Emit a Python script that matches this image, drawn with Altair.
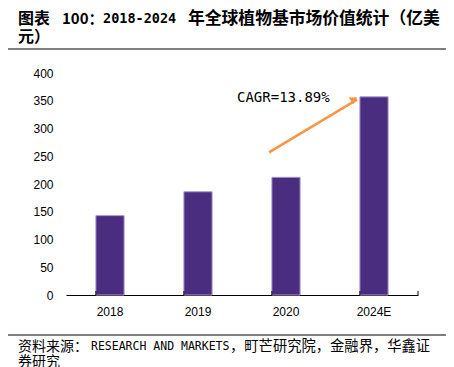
import altair as alt
import pandas as pd

years = ["2018", "2019", "2020", "2024E"]
values = [143, 186, 212, 357]

arrow_from = ["2020", 257]
arrow_to = ["2024E", 352]
arrow_head = ["2024E", 353]
cagr_label = "CAGR=13.89%"
y_ticks = [0, 50, 100, 150, 200, 250, 300, 350, 400]

W, H = 352, 222

bars_df = pd.DataFrame({"year": years, "value": values})
arrow_df = pd.DataFrame({"year": [arrow_from[0], arrow_to[0]], "value": [arrow_from[1], arrow_to[1]]})
head_df = pd.DataFrame({"year": [arrow_head[0]], "value": [arrow_head[1]]})

xscale = alt.Scale(domain=years, paddingInner=0.68, paddingOuter=0.34)
yscale = alt.Scale(domain=[0, 400])

xaxis = alt.Axis(title=None, labelAngle=0, ticks=False, domainColor="#000000",
                 domainWidth=1, labelFontSize=12, labelFont="Liberation Sans",
                 labelColor="#000000", labelPadding=11)
yaxis = alt.Axis(title=None, values=y_ticks, labelOverlap=False, grid=False, domain=False,
                 ticks=False, labelFontSize=12, labelFont="Liberation Sans",
                 labelColor="#000000", labelPadding=13)

bars = alt.Chart(bars_df).mark_bar(color="#4b2d80", stroke="#a596cf", strokeWidth=1).encode(
    x=alt.X("year:N", scale=xscale, sort=years, axis=xaxis),
    y=alt.Y("value:Q", scale=yscale, axis=yaxis),
)

ticks = alt.Chart(bars_df).mark_rule(color="#000000", strokeWidth=1).encode(
    x=alt.X("year:N", scale=xscale, sort=years, bandPosition=0, axis=xaxis),
    y=alt.value(H), y2=alt.value(H - 4),
)
end_tick = alt.Chart(bars_df.head(1)).mark_rule(color="#000000", strokeWidth=1).encode(
    x=alt.value(W), y=alt.value(H), y2=alt.value(H - 4),
)

arrow = alt.Chart(arrow_df).mark_line(color="#f79646", strokeWidth=2.5, xOffset=-17).encode(
    x=alt.X("year:N", scale=xscale, sort=years, axis=xaxis),
    y=alt.Y("value:Q", scale=yscale, axis=yaxis),
)
head = alt.Chart(head_df).mark_point(shape="triangle-up", filled=True, color="#f79646",
                                     opacity=1, size=70, angle=57.5, xOffset=-20).encode(
    x=alt.X("year:N", scale=xscale, sort=years, axis=xaxis),
    y=alt.Y("value:Q", scale=yscale, axis=yaxis),
)

cagr = alt.Chart(bars_df.head(1)).mark_text(align="left", baseline="middle", fontSize=14,
                                            font="DejaVu Sans Mono", color="#000000").encode(
    x=alt.value(171), y=alt.value(25), text=alt.value(cagr_label))


def txt(s, x, y, size, font="Noto Sans CJK SC", weight="normal"):
    return alt.Chart(bars_df.head(1)).mark_text(align="left", baseline="middle", fontSize=size,
                                                font=font, fontWeight=weight, color="#000000").encode(
        x=alt.value(x), y=alt.value(y), text=alt.value(s))


title_parts = [
    txt("图表", -48, -54, 16, weight="bold"),
    txt("100：", -4, -54, 15, weight="bold"),
    txt("2018-2024", 37, -54, 13.5, font="DejaVu Sans Mono", weight="bold"),
    txt("年全球植物基市场价值统计（亿美", 122, -54, 16.8, weight="bold"),
    txt("元）", -48, -36, 16, weight="bold"),
]
title_rule = alt.Chart(bars_df.head(1)).mark_rule(color="#555555", strokeWidth=1.5).encode(
    x=alt.value(-58), x2=alt.value(380), y=alt.value(-24))

foot_rule = alt.Chart(bars_df.head(1)).mark_rule(color="#555555", strokeWidth=1.5).encode(
    x=alt.value(-58), x2=alt.value(380), y=alt.value(262))
foot_parts = [
    txt("资料来源：", -48, 274, 14),
    txt("RESEARCH AND MARKETS", 25, 274, 11.5, font="DejaVu Sans Mono"),
    txt("，町芒研究院，金融界，华鑫证", 164, 274, 14.3),
    txt("券研究", -48, 289, 14),
]

chart = alt.layer(bars, ticks, end_tick, arrow, head, cagr, title_rule, foot_rule,
                  *title_parts, *foot_parts).properties(
    width=W, height=H,
    autosize=alt.AutoSizeParams(type="none"),
    padding={"left": 58, "top": 65, "right": 28, "bottom": 72},
).configure_view(stroke=None)

chart.save("out.html", embed_options={"renderer": "svg", "actions": False})
